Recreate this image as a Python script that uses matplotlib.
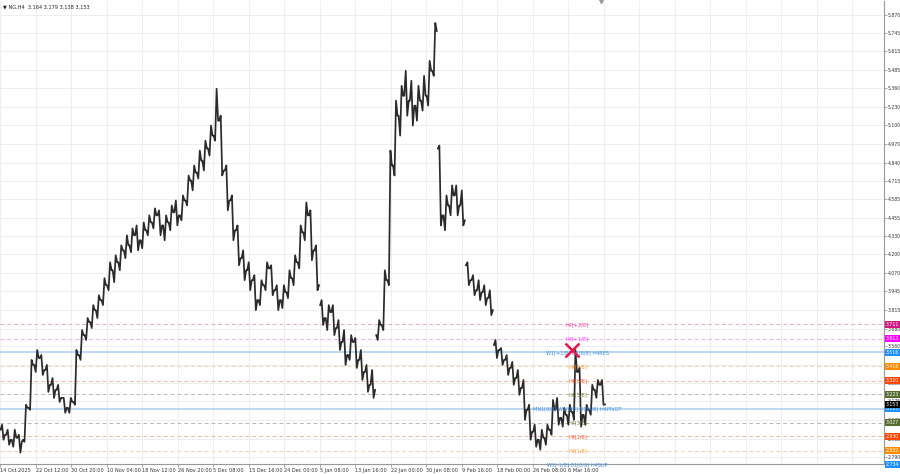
"""
NG H4 price path with Murrey-math style level lines, MT4 look.
"""

import matplotlib

matplotlib.use("Agg")
import matplotlib.pyplot as plt
import numpy as np

# one entry per trading day (6 H4 bars each)
opens = [2.977, 2.942, 2.907, 2.921, 2.907, 3.130, 3.429, 3.477, 3.394, 3.290,
         3.255, 3.199, 3.130, 3.171, 3.498, 3.637, 3.728, 3.811, 3.881, 3.985,
         4.089, 4.145, 4.228, 4.263, 4.333, 4.298, 4.368, 4.423, 4.472, 4.402,
         4.423, 4.493, 4.472, 4.576, 4.715, 4.771, 4.854, 4.938, 5.028, 5.132,
         4.785, 4.576, 4.368, 4.173, 4.089, 4.020, 3.881, 3.985, 4.103, 3.950,
         3.881, 3.936, 4.034, 4.145, 4.354, 4.472, 4.228, 3.846, 3.756, 3.797,
         3.686, 3.589, 3.498, 3.589, 3.464, 3.380, 3.290, 3.637, 3.707, 4.020,
         4.820, 5.167, 5.306, 5.272, 5.237, 5.272, 5.306, 5.480, 4.938, 4.472,
         4.541, 4.611, 4.541, 4.124, 4.020, 3.950, 3.936, 3.895, 3.568, 3.533,
         3.464, 3.408, 3.338, 3.269, 3.116, 2.963, 2.907, 2.921, 2.977, 3.116,
         3.060, 3.081, 3.102, 3.380, 3.081, 3.116, 3.255, 3.290]
highs = [3.012, 2.977, 2.977, 2.942, 3.151, 3.464, 3.533, 3.498, 3.429, 3.338,
         3.290, 3.199, 3.199, 3.533, 3.672, 3.756, 3.846, 3.915, 4.034, 4.145,
         4.194, 4.263, 4.333, 4.381, 4.402, 4.423, 4.472, 4.521, 4.507, 4.472,
         4.541, 4.576, 4.611, 4.750, 4.820, 4.924, 4.993, 5.098, 5.355, 5.167,
         4.820, 4.611, 4.402, 4.228, 4.145, 4.055, 4.020, 4.145, 4.124, 3.985,
         3.985, 4.089, 4.194, 4.402, 4.562, 4.507, 4.263, 3.881, 3.846, 3.846,
         3.742, 3.672, 3.637, 3.617, 3.533, 3.429, 3.394, 3.742, 4.089, 4.924,
         5.272, 5.376, 5.480, 5.411, 5.376, 5.445, 5.550, 5.814, 4.959, 4.611,
         4.681, 4.681, 4.646, 4.145, 4.055, 4.020, 3.985, 3.950, 3.603, 3.547,
         3.498, 3.450, 3.394, 3.324, 3.151, 3.012, 2.977, 3.012, 3.185, 3.199,
         3.130, 3.151, 3.533, 3.408, 3.151, 3.290, 3.324, 3.324]
lows = [2.907, 2.872, 2.858, 2.817, 2.893, 3.116, 3.380, 3.359, 3.241, 3.199,
        3.171, 3.095, 3.095, 3.151, 3.464, 3.603, 3.686, 3.756, 3.846, 3.950,
        4.006, 4.089, 4.173, 4.215, 4.228, 4.242, 4.333, 4.381, 4.333, 4.298,
        4.368, 4.402, 4.437, 4.541, 4.646, 4.729, 4.785, 4.889, 4.993, 4.750,
        4.507, 4.298, 4.124, 4.020, 3.950, 3.811, 3.846, 3.950, 3.915, 3.811,
        3.825, 3.895, 3.985, 4.103, 4.298, 4.159, 3.950, 3.707, 3.672, 3.637,
        3.533, 3.429, 3.464, 3.408, 3.324, 3.241, 3.199, 3.603, 3.672, 3.985,
        4.750, 5.028, 5.167, 5.098, 5.132, 5.202, 5.237, 5.445, 4.402, 4.368,
        4.472, 4.472, 4.402, 3.985, 3.915, 3.881, 3.846, 3.776, 3.477, 3.429,
        3.359, 3.290, 3.220, 3.046, 2.907, 2.858, 2.838, 2.872, 2.942, 3.012,
        2.998, 3.012, 3.046, 2.998, 3.012, 3.081, 3.199, 3.151]
closes = [2.942, 2.907, 2.921, 2.893, 3.130, 3.429, 3.477, 3.394, 3.290, 3.255,
          3.199, 3.130, 3.171, 3.498, 3.637, 3.728, 3.811, 3.881, 3.985, 4.089,
          4.145, 4.228, 4.263, 4.333, 4.298, 4.368, 4.423, 4.472, 4.402, 4.423,
          4.493, 4.472, 4.576, 4.715, 4.771, 4.854, 4.938, 5.028, 5.132, 4.785,
          4.576, 4.368, 4.173, 4.089, 4.020, 3.881, 3.985, 4.103, 3.950, 3.881,
          3.936, 4.034, 4.145, 4.354, 4.472, 4.228, 3.985, 3.756, 3.797, 3.686,
          3.589, 3.498, 3.589, 3.464, 3.380, 3.290, 3.255, 3.707, 4.020, 4.820,
          5.167, 5.306, 5.272, 5.237, 5.272, 5.306, 5.480, 5.758, 4.472, 4.541,
          4.611, 4.541, 4.437, 4.020, 3.950, 3.936, 3.895, 3.811, 3.533, 3.464,
          3.408, 3.338, 3.269, 3.116, 2.963, 2.907, 2.921, 2.977, 3.116, 3.060,
          3.081, 3.102, 3.380, 3.081, 3.116, 3.255, 3.290, 3.153]
# days where a contract roll leaves a price gap
gap_days = [57, 67, 78, 83, 88]

price_ticks = [5.870, 5.745, 5.615, 5.485, 5.360, 5.230, 5.100, 4.970, 4.840,
               4.715, 4.585, 4.455, 4.330, 4.200, 4.070, 3.945, 3.815, 3.680,
               3.560, 3.430, 3.305, 3.175, 3.045, 2.915, 2.790]
time_labels = ["14 Oct 2025", "22 Oct 12:00", "30 Oct 20:00", "10 Nov 04:00",
               "18 Nov 12:00", "26 Nov 20:00", "5 Dec 08:00", "15 Dec 16:00",
               "24 Dec 00:00", "5 Jan 08:00", "13 Jan 16:00", "22 Jan 00:00",
               "30 Jan 08:00", "9 Feb 16:00", "18 Feb 00:00", "26 Feb 08:00",
               "6 Mar 16:00"]

level_values = [3.711, 3.613, 3.516, 3.418, 3.320, 3.223, 3.125, 3.027, 2.930,
                2.832, 2.734]
level_names = ["H4[+2/8]", "H4[+1/8]", "W1[+1/8] D1[8/8] H4RES", "H4[7/8]",
               "H4[6/8]", "H4[5/8]", "MN1[8/8] W1[0/8] D1[4/8] H4PIVOT",
               "H4[3/8]", "H4[2/8]", "H4[1/8]", "W1[-1/8] D1[0/8] H4SUP"]
level_kind = ["pink", "magenta", "blue", "orange", "red", "olive", "blue",
              "olive", "red", "orange", "blue"]

title_text = "\u25bc NG,H4  3.164 3.179 3.138 3.153"
last_price = 3.153
spike_high = 3.533

BARS_PER_DAY = 6
BARS_PER_LABEL = 38

styles = {
    # line colour, text colour, box colour, solid?
    "pink": ("#f2a2cf", "#e0409a", "#cc1a82", False),
    "magenta": ("#f7a6f7", "#ff33ff", "#ff00ff", False),
    "blue": ("#a9cdf3", "#3d8fe0", "#1e90ff", True),
    "orange": ("#f9cfa6", "#ff9a3a", "#ff8c00", False),
    "red": ("#f6b3a4", "#ff5a2e", "#ff4500", False),
    "olive": ("#b8b8b0", "#6f7f3a", "#556b2f", False),
}


def day_path(i):
    # open -> extreme -> extreme -> close, spread across the day's bars
    xs = i * BARS_PER_DAY + np.array([0.6, 2.2, 3.8, 5.4])
    if closes[i] >= opens[i]:
        ys = [opens[i], lows[i], highs[i], closes[i]]
    else:
        ys = [opens[i], highs[i], lows[i], closes[i]]
    return xs, ys


def main():
    fig = plt.figure(figsize=(9, 4.74), dpi=100)
    ax = fig.add_axes([0.0, 10 / 474, 884 / 900, 463 / 474])
    ax.set_xlim(0, 946)
    ax.set_ylim(2.738, 5.967)

    # grid
    ax.set_xticks(np.arange(len(time_labels)) * BARS_PER_LABEL)
    ax.set_xticks(np.arange(len(time_labels), 25) * BARS_PER_LABEL, minor=True)
    ax.set_xticklabels(time_labels, fontsize=3.6, ha="left", color="#333333")
    ax.set_yticks(price_ticks)
    ax.set_yticklabels([f"{v:.3f}" for v in price_ticks], fontsize=3.3, color="#333333")
    ax.yaxis.tick_right()
    ax.grid(which="both", color="#ebebeb", linewidth=0.6)
    ax.set_axisbelow(True)
    ax.tick_params(axis="both", which="both", length=2, width=0.5, color="#888888", pad=0.9)
    ax.tick_params(axis="x", which="minor", length=0)
    for side in ("top", "left"):
        ax.spines[side].set_visible(False)
    for side in ("right", "bottom"):
        ax.spines[side].set_color("#999999")
        ax.spines[side].set_linewidth(0.8)

    # level lines
    for v, kind in zip(level_values, level_kind):
        line_c, _, _, solid = styles[kind]
        if solid:
            ax.axhline(v, color=line_c, linewidth=1.1, zorder=1)
        else:
            ax.axhline(v, color=line_c, linewidth=0.7, linestyle=(0, (4, 3)), zorder=1)

    # price path, broken at roll gaps
    starts = [0] + gap_days
    ends = gap_days + [len(opens)]
    for s, e in zip(starts, ends):
        xs, ys = [], []
        for i in range(s, e):
            px, py = day_path(i)
            xs.extend(px)
            ys.extend(py)
        ax.plot(xs, ys, color="#2b2b2b", linewidth=1.25, zorder=3)

    # level names near the last bars
    label_x = 618
    for v, name, kind in zip(level_values, level_names, level_kind):
        ax.text(label_x, v, name, fontsize=3.6, color=styles[kind][1],
                ha="center", va="center", zorder=4)

    ax.plot(612, spike_high, marker="x", markersize=10, markeredgewidth=1.8,
            color="#e8174a", zorder=5)

    # price boxes on the right scale
    trans = ax.get_yaxis_transform()
    for v, kind in zip(level_values, level_kind):
        ax.annotate(f"{v:.3f}", xy=(1.0, v), xycoords=trans, xytext=(1.4, 0),
                    textcoords="offset points", fontsize=3.3, color="white",
                    ha="left", va="center", annotation_clip=False, zorder=6,
                    bbox=dict(boxstyle="square,pad=0.3", fc=styles[kind][2], ec="none"))
    ax.annotate(f"{last_price:.3f}", xy=(1.0, last_price), xycoords=trans,
                xytext=(1.4, 0), textcoords="offset points", fontsize=3.3,
                color="white", ha="left", va="center", annotation_clip=False,
                zorder=7, bbox=dict(boxstyle="square,pad=0.3", fc="black", ec="none"))

    ax.text(0.003, 0.993, title_text, transform=ax.transAxes, fontsize=3.6,
            color="#222222", ha="left", va="top")
    ax.plot(643, 5.967, marker="v", markersize=3, color="#9a9a9a", clip_on=False)

    fig.savefig("out.png", dpi=100)


if __name__ == "__main__":
    main()
